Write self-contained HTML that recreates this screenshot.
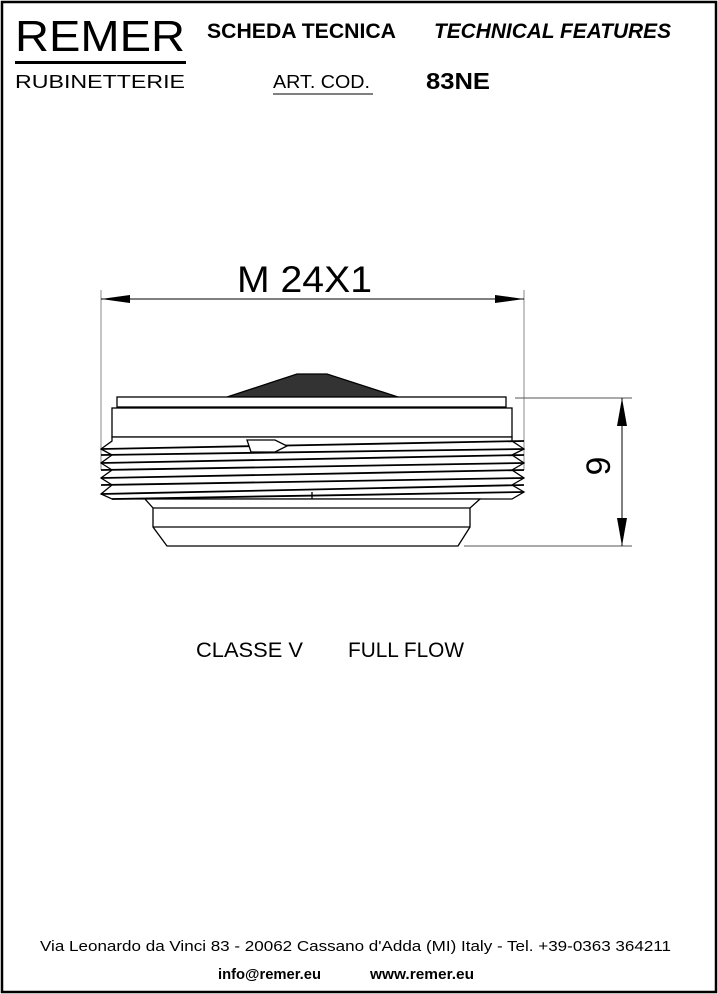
<!DOCTYPE html>
<html><head><meta charset="utf-8"><style>
html,body{margin:0;padding:0;background:#fff}
svg{display:block}
</style></head><body>
<svg width="718" height="994" viewBox="0 0 718 994" xmlns="http://www.w3.org/2000/svg" font-family="Liberation Sans, sans-serif">
<rect x="2" y="2" width="714" height="990" fill="#fff" stroke="#000" stroke-width="2.5"/>
<!-- header -->
<text x="15" y="51" font-size="44" textLength="170" lengthAdjust="spacingAndGlyphs">REMER</text>
<rect x="15" y="61" width="171" height="3" fill="#000"/>
<text x="15" y="88" font-size="18" textLength="170" lengthAdjust="spacingAndGlyphs">RUBINETTERIE</text>
<text x="207" y="38" font-size="21" font-weight="bold" textLength="189" lengthAdjust="spacingAndGlyphs">SCHEDA TECNICA</text>
<text x="434" y="38" font-size="21" font-weight="bold" font-style="italic" textLength="237" lengthAdjust="spacingAndGlyphs">TECHNICAL FEATURES</text>
<text x="273" y="88" font-size="18" textLength="97" lengthAdjust="spacingAndGlyphs">ART. COD.</text>
<line x1="273" y1="94" x2="373" y2="94" stroke="#000" stroke-width="1"/>
<text x="426" y="89" font-size="23" font-weight="bold" textLength="64" lengthAdjust="spacingAndGlyphs">83NE</text>
<!-- dimension M24X1 -->
<line x1="101" y1="290" x2="101" y2="470" stroke="#888" stroke-width="1"/>
<line x1="524" y1="290" x2="524" y2="470" stroke="#888" stroke-width="1"/>
<line x1="101" y1="299" x2="524" y2="299" stroke="#000" stroke-width="1"/>
<polygon points="101,299 130,295 130,303" fill="#000"/>
<polygon points="524,299 495,295 495,303" fill="#000"/>
<text x="237" y="292" font-size="37" textLength="135" lengthAdjust="spacingAndGlyphs">M 24X1</text>
<!-- dimension 9 -->
<line x1="515" y1="398" x2="632" y2="398" stroke="#555" stroke-width="1"/>
<line x1="464" y1="546" x2="632" y2="546" stroke="#555" stroke-width="1"/>
<line x1="622" y1="398" x2="622" y2="546" stroke="#000" stroke-width="1"/>
<polygon points="622,398 617,426 627,426" fill="#000"/>
<polygon points="622,546 617,518 627,518" fill="#000"/>
<text x="0" y="0" font-size="34" text-anchor="middle" transform="translate(610,466) rotate(-90)">9</text>
<!-- part -->
<g stroke="#000" stroke-width="1.3" fill="#fff">
<polygon points="227,397 297,374 327,374 398,397" fill="#333"/>
<rect x="117" y="397" width="389" height="10"/>
<rect x="112" y="408" width="400" height="29"/>
<path d="M112,437 L512,437 L512,441 L524,449 L512,455 L524,463 L512,470 L524,478 L512,485 L524,492 L512,499 L112,499 L101,494 L112,485 L101,478 L112,470 L101,463 L112,455 L101,449 L112,441 Z"/>
<g stroke-width="1.8" fill="none">
<path d="M101,449 L524,441"/><path d="M101,455 L524,449"/>
<path d="M101,463 L524,455"/><path d="M101,470 L524,463"/>
<path d="M101,478 L524,470"/><path d="M101,485 L524,478"/>
<path d="M101,494 L524,485"/><path d="M112,499 L524,492"/>
</g>
<path d="M247,440 L275,440 L287,446 L275,452 L251,452 Z" fill="#fff"/>
<line x1="312" y1="492" x2="312" y2="499"/>
<path d="M145,499 L480,499 L470,508 L470,527 L458,546 L167,546 L153,527 L153,508 Z"/>
<line x1="153" y1="508" x2="470" y2="508"/>
<line x1="153" y1="527" x2="470" y2="527"/>
</g>
<!-- labels -->
<text x="196" y="657" font-size="21" textLength="107" lengthAdjust="spacingAndGlyphs">CLASSE  V</text>
<text x="348" y="657" font-size="21" textLength="116" lengthAdjust="spacingAndGlyphs">FULL FLOW</text>
<text x="40" y="951" font-size="15" textLength="631" lengthAdjust="spacingAndGlyphs">Via Leonardo da Vinci 83 - 20062 Cassano d'Adda (MI) Italy - Tel. +39-0363 364211</text>
<text x="218" y="979" font-size="15" font-weight="bold" textLength="103" lengthAdjust="spacingAndGlyphs">info@remer.eu</text>
<text x="370" y="979" font-size="15" font-weight="bold" textLength="104" lengthAdjust="spacingAndGlyphs">www.remer.eu</text>
</svg>
</body></html>
